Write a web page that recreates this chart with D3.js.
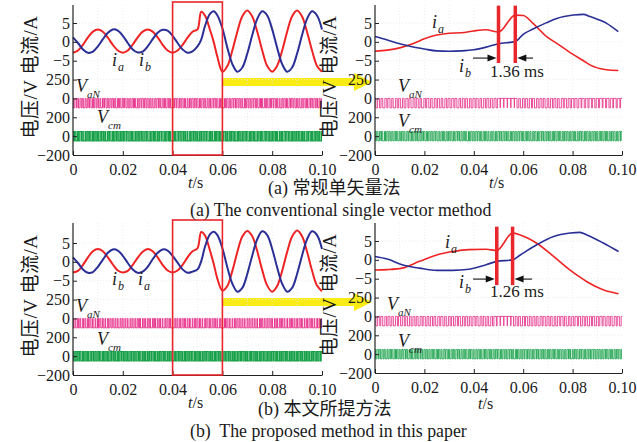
<!DOCTYPE html>
<html><head><meta charset="utf-8">
<script src="https://cdn.jsdelivr.net/npm/d3@7"></script>
<style>
body{margin:0;background:#fff}
svg{display:block}
text{font-family:"Liberation Serif","Noto Sans CJK SC",serif;fill:#1a1a1a}
</style>
</head><body>
<svg id="c" width="637" height="442"></svg>
<script>
// ---------------- DATA ----------------
const xTicks = [0, 0.02, 0.04, 0.06, 0.08, 0.10];
const xTickLabels = ["0", "0.02", "0.04", "0.06", "0.08", "0.10"];
const yTickLabels = ["5", "0", "\u22125", "250", "0", "200", "0", "\u2212200"];

// left panels (full 0-0.1 s)
const timesL = [0,0.002,0.004,0.006,0.008,0.010,0.012,0.014,0.016,0.018,0.020,0.022,0.024,0.026,0.028,0.030,0.032,0.034,0.036,0.038,0.040,0.042,0.044,0.046,0.048,0.050,
  0.0515,0.053,0.055,0.0565,0.058,
  0.060,0.062,0.064,0.066,0.068,0.070,0.072,0.074,0.076,0.078,0.080,0.082,0.084,0.086,0.088,0.090,0.092,0.094,0.096,0.098,0.100];
const iaLeftA = [-2.9,-2.3,-0.8,1.2,2.7,3.3,2.7,1.1,-0.8,-2.3,-2.9,-2.3,-0.7,1.2,2.7,3.3,2.7,1.2,-0.8,-2.3,-2.9,-2.3,-0.8,1.1,2.7,3.3,
  8.0,7.0,3.2,0.0,-4.0,
  -7.9,-6.4,-2.3,2.7,6.8,8.3,6.7,2.7,-2.3,-6.4,-7.9,-6.3,-2.3,2.7,6.8,8.3,6.7,2.6,-2.3,-6.4,-7.9];
const ibLeftA = [1.2,-0.3,-2.0,-2.9,-2.6,-1.2,0.7,2.4,3.3,3.0,1.6,-0.3,-2.0,-2.8,-2.6,-1.2,0.7,2.4,3.2,3.0,1.6,-0.3,-2.0,-2.9,-2.5,-1.2,
  0.6,4.2,7.4,8.1,7.0,
  3.6,-1.6,-5.9,-7.9,-6.8,-3.1,1.8,6.1,8.1,7.0,3.3,-1.6,-5.9,-7.9,-6.8,-3.1,1.8,6.1,8.1,7.0,3.3];
const iaLeftB = [-2.8,-2.4,-0.8,1.2,2.8,3.4,2.8,1.2,-0.7,-2.3,-2.8,-2.4,-0.8,1.1,2.7,3.4,2.8,1.2,-0.8,-2.3,-2.8,-2.3,-0.8,1.2,2.8,3.6,
  7.9,7.0,3.0,-0.5,-4.5,
  -7.6,-6.4,-2.4,2.6,6.7,8.2,6.8,2.8,-2.2,-6.3,-7.9,-6.4,-2.4,2.6,6.7,8.3,6.8,2.7,-2.3,-6.3,-7.8];
const ibLeftB = [1.2,-0.3,-2.0,-2.9,-2.7,-1.3,0.6,2.4,3.3,3.0,1.6,-0.3,-2.0,-2.9,-2.6,-1.3,0.7,2.4,3.3,3.0,1.6,-0.2,-2.0,-2.9,-2.6,-2.0,
  0.2,4.0,7.3,8.0,7.1,
  3.6,-1.5,-5.8,-7.9,-6.9,-3.2,1.7,6.0,8.1,7.1,3.4,-1.5,-5.8,-7.9,-6.9,-3.2,1.7,6.0,8.1,7.1,3.4];

// right panels (zoomed view)
const timesRA = [0,0.005,0.01,0.015,0.02,0.025,0.03,0.035,0.04,0.045,0.05,0.0568,0.06,0.064,0.0695,0.0736,0.0803,0.0844,0.087,0.0938,0.0985];
const iaRightA = [-2.5,-2.2,-1.6,-0.6,0.8,1.8,2.3,2.4,2.9,3.2,2.6,7.1,7.0,4.9,1.4,-0.4,-3.4,-5.0,-6.1,-7.4,-7.6];
const ibRightA = [1.4,0.5,-0.5,-1.3,-1.9,-2.4,-2.5,-2.4,-2.1,-1.4,-0.5,0.1,2.0,3.4,5.1,6.2,7.1,7.3,6.7,4.9,2.7];
const timesRB = [0,0.005,0.011,0.018,0.025,0.0315,0.038,0.045,0.0493,0.0557,0.0588,0.0655,0.0723,0.079,0.083,0.0858,0.0926,0.0986];
const iaRightB = [-2.7,-2.6,-2.2,-0.4,1.3,2.2,2.7,2.8,2.5,7.1,6.6,4.4,0.9,-2.7,-4.6,-5.8,-8.0,-9.0];
const ibRightB = [0.9,0.2,-1.3,-2.2,-2.8,-2.8,-2.5,-1.3,-0.4,0.0,1.3,4.0,6.2,7.1,7.3,6.6,4.4,2.2];

// switching pulses: duty (tenths) of each switching period
const vaNLeftA = [5,3,6,4,7,5,3,6,5,4,6,7,3,5,6,4,5,7,4,6,3,5,6,5,4,7,6,3,5,4,6,5,7,4,3,6,5,6,4,7,5,3,6,4,5,7,6,4,5,3,6,5,4,7,5,6,3,4,6,5,7,4,5,6,3,5,4,6,7,5,4,6,3,5,6,4,7,5,6,4,3,5,6,7,4,5,6,3,4,6,5,7,4,5,6,3,5,4,6,5];
const vcmLeftA = [4,6,5,3,7,5,4,6,5,5,6,4,5,7,3,6,5,4,6,5,5,3,6,4,7,5,5,4,6,3,7,5,4,6,5,3,6,5,4,7,5,6,3,5,4,6,7,5,4,5,6,4,5,3,6,5,7,4,5,6,3,5,6,4,5,7,4,6,5,3,6,5,4,7,5,4,6,3,5,6,5,4,7,5,6,3,4,6,5,5,4,6,5,7,3,5,6,4,5,6];
const vaNLeftB = [6,7,5,8,6,7,5,6,8,7,5,6,7,8,6,5,7,6,8,5,7,6,8,5,7,6,5,8,6,7,6,8,5,7,6,7,8,5,6,7,8,5,7,6,5,7,6,8,7,5,6,7,8,5,6,7,5,6,8,7,7,5,6,8,7,6,5,7,6,8,5,7,6,7,8,5,6,7,5,6,8,6,7,5,6,8,7,5,6,7,6,5,8,7,6,5,7,8,6,7];
const vcmLeftB = [5,5,4,6,5,5,6,4,5,5,4,6,5,5,6,4,5,6,5,4,5,5,6,4,5,5,4,6,5,6,5,4,5,6,5,5,4,6,5,5,6,5,4,5,6,5,5,4,6,5,5,6,5,4,5,5,6,5,4,6,5,5,4,6,5,6,5,4,5,5,6,4,5,5,6,5,4,6,5,5,4,5,6,5,5,4,6,5,5,6,5,4,6,5,5,6,4,5,5,4];
const vaNRightA = [5,4,6,3,5,7,4,6,5,3,6,4,5,7,3,5,6,4,5,6,4,5,3,6,5,4,6,5,3,5,6,4,5,5,4,0,0,0,0,0,5,6,4,5,3,6,5,4,6,5,4,5,6,3,5,4,3,5,2,4,3,2,4,3,2,3,4,2,3,2];
const vcmRightA = [4,6,3,7,5,4,6,5,3,6,5,4,7,3,6,5,4,6,5,3,6,5,4,6,3,7,5,4,6,5,4,6,5,3,6,5,4,7,5,4,6,3,5,6,4,5,7,4,6,5,3,6,4,5,6,5,4,6,3,5,6,4,5,7,4,6,5,3,6,4,5,6,4,5,3,6,5,4,6,5,4,7,5,3,6,4,5,6,4,5,6,3,5,4,6,5,4,6,5,3];
const vaNRightB = [5,3,6,4,5,6,3,5,4,6,5,4,6,3,5,5,4,6,3,5,6,4,5,3,6,4,5,5,3,6,4,5,6,4,2,0,0,0,0,5,4,6,3,5,5,4,6,3,5,4,6,5,3,4,6,5,4,3,5,4,6,3,5,4,3,5,4,6,3,5];
const vcmRightB = [5,3,6,4,7,5,3,6,4,5,6,4,3,6,5,7,4,5,3,6,4,6,5,3,6,4,5,7,3,5,6,4,5,3,6,5,4,6,3,5,7,4,5,6,3,5,4,6,5,3,6,5,4,6,3,5,7,4,5,6,3,5,4,6,5,3,6,4,5,6,4,5,3,6,5,4,6,5,3,7,5,4,6,3,5,6,4,5,3,6,4,6,5,3,5,4,6,5,4,5];
const vaNLevels = [0, -125];   // V
const vcmLevels = [50, -50];   // V

// transient markers on zoomed panels
const barTimesA = [0.05, 0.0568];
const barTimesB = [0.0493, 0.0557];
const intervalLabels = ["1.36 ms", "1.26 ms"];

// ---------------- DRAW ----------------
const svg = d3.select("#c");
const RED = "#ee2424", BLUE = "#2a2f96", PINK = "#e8388f", GREEN = "#16a048", FRAME = "#e8262b", YELLOW = "#f8ec14";

const panels = [
  {left:73, right:322, top:5, tickTop:23, tickBottom:155, t:timesL, ia:iaLeftA, ib:ibLeftA, van:vaNLeftA, vcm:vcmLeftA, zoomed:false,
   lab:{ia:[112,66], ib:[139,66], van:[76,92], vcm:[97,123], tx:188, ty:188}},
  {left:375, right:622, top:5, tickTop:23, tickBottom:155, t:timesRA, ia:iaRightA, ib:ibRightA, van:vaNRightA, vcm:vcmRightA, zoomed:true,
   bars:barTimesA, barRange:[9.6,-5.6], arrowY:-4.3, arrowFrom:[0.0397,0.064], ms:intervalLabels[0], msPos:[517,77],
   lab:{ia:[432,28], ib:[459,72], van:[398,92], vcm:[398,127], tx:489, ty:188}},
  {left:73, right:322, top:223, tickTop:243, tickBottom:375, t:timesL, ia:iaLeftB, ib:ibLeftB, van:vaNLeftB, vcm:vcmLeftB, zoomed:false,
   lab:{ia:[138,285], ib:[112,285], van:[76,312], vcm:[97,345], tx:188, ty:408}},
  {left:375, right:622, top:223, tickTop:241, tickBottom:373, t:timesRB, ia:iaRightB, ib:ibRightB, van:vaNRightB, vcm:vcmRightB, zoomed:true,
   bars:barTimesB, barRange:[8.8,-6.7], arrowY:-5.1, arrowFrom:[0.0397,0.0636], ms:intervalLabels[1], msPos:[517,297],
   lab:{ia:[445,248], ib:[459,288], van:[387,310], vcm:[398,347], tx:478, ty:409}}
];

function scalesFor(p){
  const x = d3.scaleLinear().domain([0,0.1]).range([p.left,p.right]);
  const yIdx = d3.scaleLinear().domain([0,7]).range([p.tickTop,p.tickBottom]);
  const yCur = d3.scaleLinear().domain([5,-5]).range([yIdx(0), yIdx(2)]);
  const yVan = d3.scaleLinear().domain([250,0]).range([yIdx(3), yIdx(4)]);
  const yVcm = d3.scaleLinear().domain([200,-200]).range([yIdx(5), yIdx(7)]);
  return {x, yIdx, yCur, yVan, yVcm};
}

// yellow arrows (underneath everything)
[0,2].forEach(i => {
  const p = panels[i], s = scalesFor(p);
  const yc = s.yIdx(3) + 2.5;
  const x0 = s.x(0.06), xh = 354, xt = 372;
  svg.append("path")
    .attr("d", `M${x0},${yc-4}H${xh}V${yc-9}L${xt},${yc}L${xh},${yc+9}V${yc+4}H${x0}Z`)
    .attr("fill", YELLOW);
});

function pulsePoints(duties, levels){
  const T = 0.1/duties.length, pts = [];
  duties.forEach((d,k) => {
    const t0 = k*T, f = d/10;
    pts.push([t0, levels[0]]);
    pts.push([t0 + T*(1-f)/2, levels[1]]);
    pts.push([t0 + T*(1+f)/2, levels[0]]);
  });
  pts.push([0.1, levels[0]]);
  return pts;
}

function italicSub(g, pos, main, sub, size, subSize, sdx, sdy){
  const t = g.append("text").attr("x", pos[0]).attr("y", pos[1])
    .style("font-style","italic").style("font-size", size+"px");
  t.append("tspan").text(main);
  t.append("tspan").attr("dx", sdx).attr("dy", sdy).style("font-size", subSize+"px").text(sub);
}

panels.forEach(p => {
  const s = scalesFor(p), g = svg.append("g");
  // faint grid
  const grid = g.append("g").attr("stroke","#e9e9e9").attr("stroke-width",0.8).attr("stroke-dasharray","1,2");
  d3.range(1,10).forEach(k => grid.append("line").attr("x1",s.x(k/100)).attr("x2",s.x(k/100)).attr("y1",p.top).attr("y2",p.tickBottom));
  d3.range(0,7).forEach(k => grid.append("line").attr("x1",p.left).attr("x2",p.right).attr("y1",s.yIdx(k)).attr("y2",s.yIdx(k)));

  // PWM voltages
  const stepLine = (ys) => d3.line().x(d => s.x(d[0])).y(d => ys(d[1])).curve(d3.curveStepAfter);
  g.append("path").attr("d", stepLine(s.yVan)(pulsePoints(p.van, vaNLevels)))
    .attr("fill","none").attr("stroke",PINK).attr("stroke-width", p.zoomed?0.9:1);
  g.append("path").attr("d", stepLine(s.yVcm)(pulsePoints(p.vcm, vcmLevels)))
    .attr("fill","none").attr("stroke",GREEN).attr("stroke-width", p.zoomed?0.9:1.1);

  // currents
  const cl = d3.line().x(d => s.x(d[0])).y(d => s.yCur(d[1]))
    .curve(p.zoomed ? d3.curveMonotoneX : d3.curveCatmullRom.alpha(0.5));
  g.append("path").attr("d", cl(p.t.map((t,i)=>[t,p.ia[i]]))).attr("fill","none").attr("stroke",RED).attr("stroke-width", p.zoomed?1.6:2);
  g.append("path").attr("d", cl(p.t.map((t,i)=>[t,p.ib[i]]))).attr("fill","none").attr("stroke",BLUE).attr("stroke-width", p.zoomed?1.6:2);

  // axes
  const xa = g.append("g").attr("transform",`translate(0,${p.tickBottom})`)
    .call(d3.axisBottom(s.x).tickValues(xTicks).tickFormat((d,i)=>xTickLabels[i]).tickSizeInner(-4).tickSizeOuter(0).tickPadding(9));
  const ya = g.append("g").attr("transform",`translate(${p.left},0)`)
    .call(d3.axisLeft(s.yIdx).tickValues(d3.range(8)).tickFormat(i=>yTickLabels[i]).tickSizeInner(-4).tickSizeOuter(0).tickPadding(3));
  ya.select(".domain").remove();
  g.append("line").attr("x1",p.left).attr("x2",p.left).attr("y1",p.top).attr("y2",p.tickBottom).attr("stroke","#222").attr("stroke-width",1.2);
  [xa, ya].forEach(a => {
    a.selectAll("text").style("font-family",'"Liberation Serif",serif').style("font-size","16px").attr("fill","#1a1a1a");
    a.selectAll("line").attr("stroke","#222");
    a.select(".domain").attr("stroke","#222").attr("stroke-width",1.2);
  });

  // y title
  const yc = (p.top + p.tickBottom)/2 - 3;
  g.append("text").attr("transform",`translate(${p.zoomed?329:30},${yc}) rotate(-90)`)
    .attr("text-anchor","middle").attr("dominant-baseline","central")
    .style("font-size","19px").style("letter-spacing","0.5px")
    .attr("xml:space","preserve").style("white-space","pre")
    .text("电压/V 电流/A");

  // t/s
  const tt = g.append("text").attr("x",p.lab.tx).attr("y",p.lab.ty).style("font-size","16px");
  tt.append("tspan").style("font-style","italic").text("t");
  tt.append("tspan").text("/s");

  // series labels
  italicSub(g, p.lab.ia, "i", "a", 18, 12, 1, 5);
  italicSub(g, p.lab.ib, "i", "b", 18, 12, 1, 5);
  italicSub(g, p.lab.van, "V", "aN", 18, 11, 0, 6);
  italicSub(g, p.lab.vcm, "V", "cm", 18, 11, 0, 6);

  if (!p.zoomed) {
    g.append("rect").attr("x", s.x(0.04)).attr("y", p.top-3)
      .attr("width", s.x(0.06)-s.x(0.04)).attr("height", p.tickBottom-p.top+3)
      .attr("fill","none").attr("stroke",FRAME).attr("stroke-width",1.6);
  } else {
    p.bars.forEach(b => g.append("line").attr("x1",s.x(b)).attr("x2",s.x(b))
      .attr("y1",s.yCur(p.barRange[0])).attr("y2",s.yCur(p.barRange[1]))
      .attr("stroke",FRAME).attr("stroke-width",3.5));
    const ay = s.yCur(p.arrowY);
    const xb1 = s.x(p.bars[0]) - 2, xb2 = s.x(p.bars[1]) + 2;
    const xa0 = s.x(p.arrowFrom[0]), xa1 = s.x(p.arrowFrom[1]);
    g.append("line").attr("x1",xa0).attr("x2",xb1-6).attr("y1",ay).attr("y2",ay).attr("stroke","#111").attr("stroke-width",1.1);
    g.append("path").attr("d",`M${xb1},${ay}L${xb1-9},${ay-3.5}L${xb1-9},${ay+3.5}Z`).attr("fill","#111");
    g.append("line").attr("x1",xa1).attr("x2",xb2+6).attr("y1",ay).attr("y2",ay).attr("stroke","#111").attr("stroke-width",1.1);
    g.append("path").attr("d",`M${xb2},${ay}L${xb2+9},${ay-3.5}L${xb2+9},${ay+3.5}Z`).attr("fill","#111");
    g.append("text").attr("x",p.msPos[0]).attr("y",p.msPos[1]).attr("text-anchor","middle")
      .style("font-size","17px").text(p.ms);
  }
});

// captions
const caps = [
  {x:268, y:194, size:18, text:"(a) 常规单矢量法"},
  {x:190, y:216, size:17.8, text:"(a) The conventional single vector method"},
  {x:258, y:415, size:18, text:"(b) 本文所提方法"},
  {x:190, y:437, size:17.8, text:"(b)  The proposed method in this paper"}
];
caps.forEach(c => svg.append("text").attr("x",c.x).attr("y",c.y).style("font-size",c.size+"px")
  .attr("xml:space","preserve").style("white-space","pre").text(c.text));
</script>
</body></html>
